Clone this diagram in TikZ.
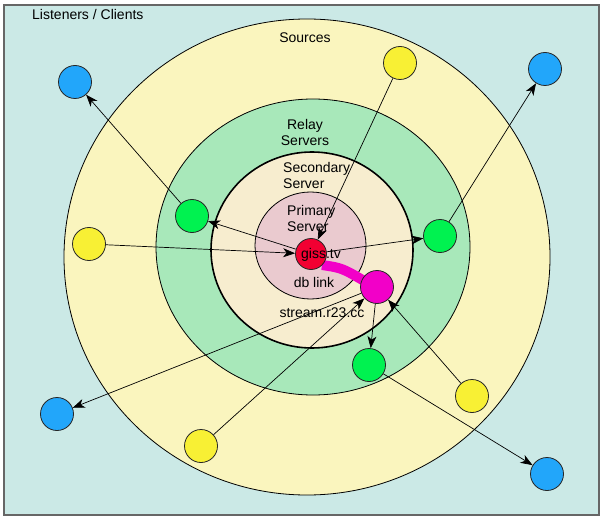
\documentclass[tikz,border=0pt]{standalone}
\usepackage{fontspec}
\setmainfont{Liberation Sans}
\usetikzlibrary{arrows.meta}
\definecolor{teal0}{RGB}{203,233,230}
\definecolor{yellow0}{RGB}{250,245,190}
\definecolor{green0}{RGB}{168,232,186}
\definecolor{cream0}{RGB}{247,237,207}
\definecolor{pink0}{RGB}{234,202,207}
\definecolor{yellow1}{RGB}{248,240,52}
\definecolor{green1}{RGB}{0,242,80}
\definecolor{blue1}{RGB}{34,166,250}
\definecolor{red1}{RGB}{242,0,50}
\definecolor{magenta1}{RGB}{242,0,200}

\begin{document}
\begin{tikzpicture}[x=1pt,y=-1pt,
dot/.style={circle,draw=black!85,line width=0.8pt,minimum size=33pt,inner sep=0pt},
client/.style={dot,fill=blue1},
source/.style={dot,fill=yellow1},
relay/.style={dot,fill=green1},
server/.style={dot,minimum size=31pt},
ring/.style={draw=black,line width=0.8pt},
arr/.style={-{Stealth[length=12pt,width=9pt,inset=3.5pt]},line width=0.7pt},
lbl/.style={font=\fontsize{14}{16}\selectfont,inner sep=0pt,align=left}
]
\useasboundingbox (0,0) rectangle (604,521);
\filldraw[fill=teal0,draw=black!60,line width=1.2pt] (4,5) rectangle (599,515);

% zones
\filldraw[ring,fill=yellow0] (307,257) ellipse [x radius=243,y radius=238];
\filldraw[ring,fill=green0] (313,247) ellipse [x radius=157,y radius=148];
\filldraw[ring,fill=cream0,line width=1.6pt] (312,250) ellipse [x radius=101,y radius=98];
\filldraw[ring,fill=pink0] (310.5,245.5) ellipse [x radius=55.5,y radius=53.5];

\node[lbl,anchor=west] (tlisten) at (32,14) {Listeners / Clients};
\node[lbl] (tsources) at (305,38) {Sources};
\node[lbl,align=center] (trelay) at (305,132) {Relay\\Servers};
\node[lbl,anchor=west] (tsecondary) at (283,175) {Secondary\\Server};
\node[lbl,anchor=west] (tprimary) at (287,218) {Primary\\Server};

% db link
\coordinate (la) at (322,265);
\coordinate (lb) at (366,282);
\draw[magenta1,line width=10pt] (la) .. controls (342,268) .. (lb);

\node[server,fill=red1] (giss) at (311,254) {};
\node[server,fill=magenta1,minimum size=33pt] (stream) at (377,287) {};
\node[lbl,anchor=west] (tgiss) at (301,255) {giss.tv};
\node[lbl] (tdb) at (314,282) {db link};
\node[lbl] (tstream) at (322,313) {stream.r23.cc};

\node[client] (c1) at (75,82) {};
\node[client] (c2) at (545,69) {};
\node[client] (c3) at (57,414) {};
\node[client] (c4) at (547,474) {};

\node[source] (s1) at (400,63) {};
\node[source] (s2) at (89,244) {};
\node[source] (s3) at (472,396) {};
\node[source] (s4) at (201,446) {};

\node[relay] (r1) at (192,216) {};
\node[relay] (r2) at (440,236) {};
\node[relay] (r3) at (369,365) {};

\draw[arr] (s2) -- (giss);
\draw[arr] (s1) -- (giss);
\draw[arr] (giss) -- (r1);
\draw[arr] (giss) -- (r2);
\draw[arr] (r1) -- (c1);
\draw[arr] (r2) -- (c2);
\draw[arr] (s4) -- (stream);
\draw[arr] (s3) -- (stream);
\draw[arr] (stream) -- (r3);
\draw[arr] (stream) -- (c3);
\draw[arr] (r3) -- (c4);
\end{tikzpicture}
\end{document}
